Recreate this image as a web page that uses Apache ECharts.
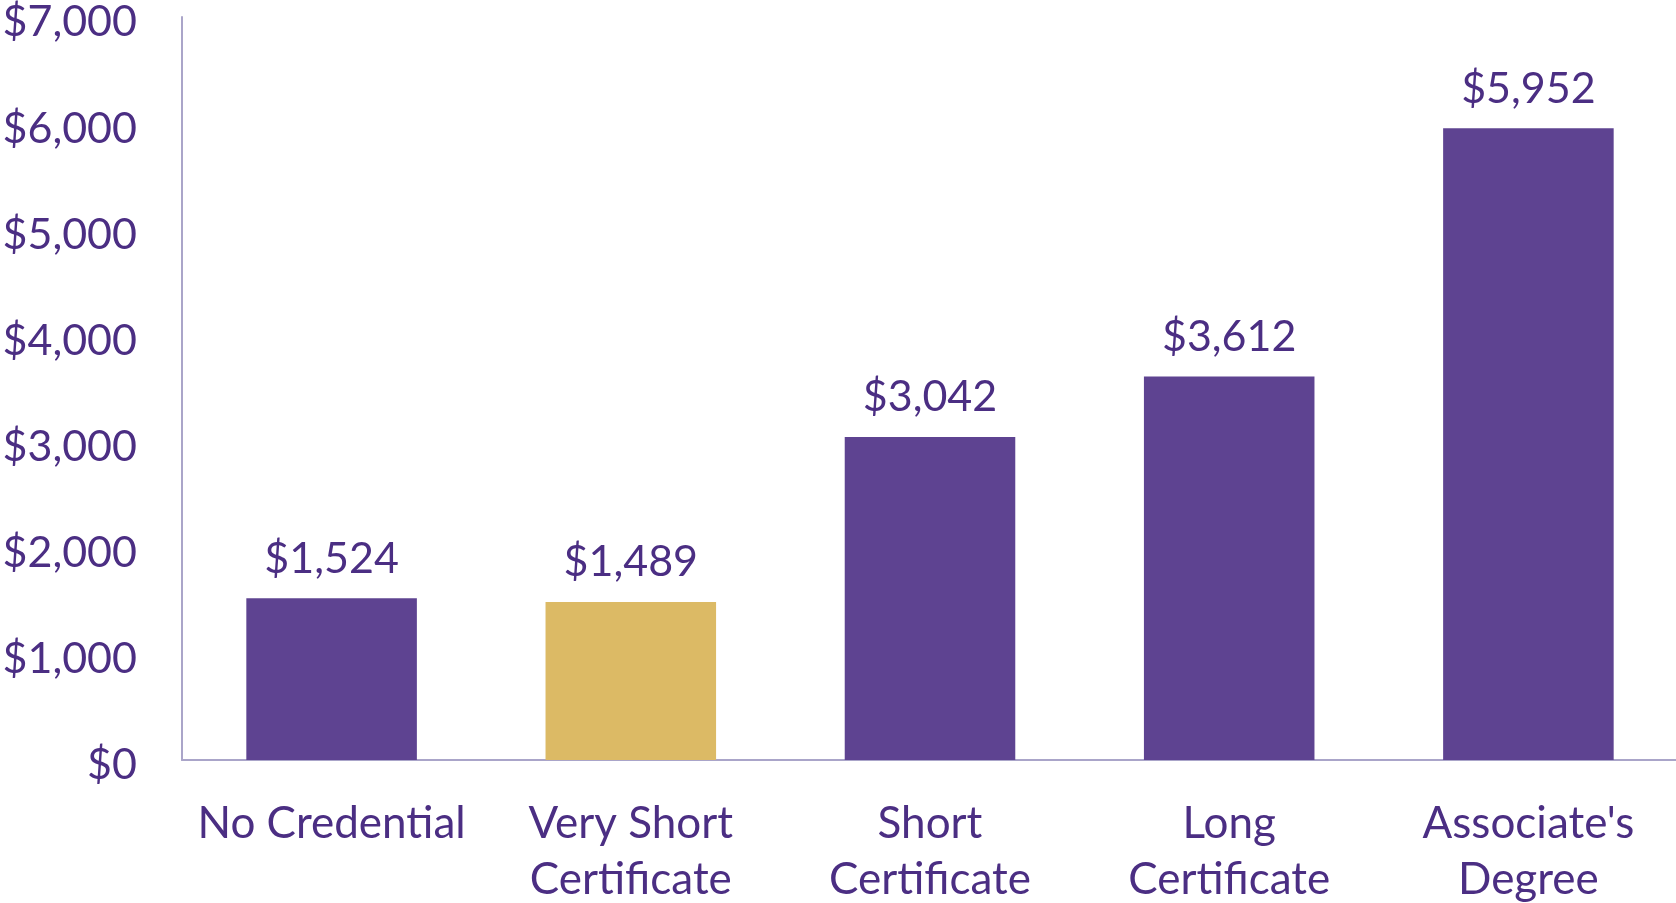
<!DOCTYPE html>
<html><head><meta charset="utf-8">
<script src="https://cdn.jsdelivr.net/npm/echarts@6/dist/echarts.min.js"></script>
<style>html,body{margin:0;padding:0;background:#fff}#c{width:1676px;height:903px}</style>
</head><body><div id="c"></div>
<script>
const categories = ['No Credential', 'Very Short\nCertificate', 'Short\nCertificate', 'Long\nCertificate', "Associate's\nDegree"];
const values = [1524, 1489, 3042, 3612, 5952];
const barColors = ['#5e4391', '#dcba65', '#5e4391', '#5e4391', '#5e4391'];
const yTicks = [0, 1000, 2000, 3000, 4000, 5000, 6000, 7000];

const textColor = '#4b2e83';
const font = 'Lato';
const fmt = v => '$' + v.toLocaleString('en-US');

const chart = echarts.init(document.getElementById('c'));
chart.setOption({
  animation: false,
  grid: { left: 182, top: 17, width: 1496, bottom: 143, containLabel: false, outerBoundsMode: 'none' },
  xAxis: {
    type: 'category', data: categories,
    axisLine: { lineStyle: { color: '#aaa5c9', width: 2 } },
    axisTick: { show: false },
    axisLabel: { color: textColor, fontFamily: font, fontSize: 44, lineHeight: 56, margin: 36, interval: 0 }
  },
  yAxis: {
    type: 'value', min: yTicks[0], max: yTicks[yTicks.length - 1], interval: 1000,
    axisLine: { show: true, lineStyle: { color: '#aaa5c9', width: 2 } },
    axisTick: { show: false },
    splitLine: { show: false },
    axisLabel: { color: textColor, fontFamily: font, fontSize: 43, margin: 45, formatter: v => fmt(v), verticalAlign: 'top', padding: [-16,0,0,0] }
  },
  series: [{
    type: 'bar', barWidth: '57%',
    data: values.map((v, i) => ({ value: v, itemStyle: { color: barColors[i] } })),
    label: { show: true, position: 'top', distance: 18, color: textColor, fontFamily: font, fontSize: 43, formatter: p => fmt(p.value) }
  }]
});
</script></body></html>
